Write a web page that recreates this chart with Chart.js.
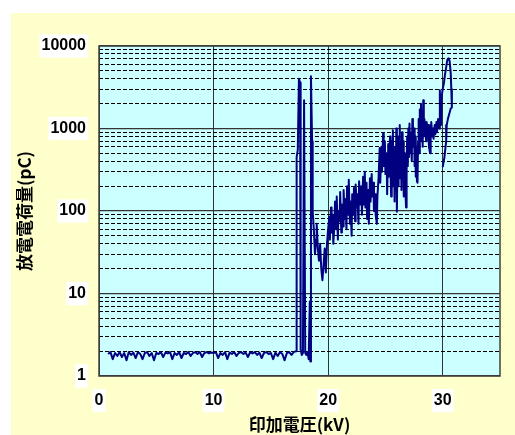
<!DOCTYPE html>
<html><head><meta charset="utf-8">
<script src="https://cdn.jsdelivr.net/npm/chart.js@4"></script>
<style>html,body{margin:0;padding:0;background:#fff;overflow:hidden}#wrap{width:515px;height:435px;position:relative}</style>
</head><body><div id="wrap"><canvas id="c" width="515" height="435"></canvas></div>
<script>
// ---- data (applied voltage kV / discharge charge pC), traced in sweep order ----
const baselineKV = [0.8,1.0,1.2,1.4,1.6,1.8,2.0,2.2,2.4,2.6,2.8,3.0,3.2,3.4,3.6,3.8,4.0,4.2,4.4,4.6,4.8,5.0,5.2,5.4,5.6,5.8,6.0,6.2,6.4,6.6,6.8,7.0,7.2,7.4,7.6,7.8,8.0,8.2,8.4,8.6,8.8,9.0,9.2,9.4,9.6,9.8,10.0,10.2,10.4,10.6,10.8,11.0,11.2,11.4,11.6,11.8,12.0,12.2,12.4,12.6,12.8,13.0,13.2,13.4,13.6,13.8,14.0,14.2,14.4,14.6,14.8,15.0,15.2,15.4,15.6,15.8,16.0,16.2,16.4,16.6,16.8,17.0,17.2];
const baselinePC = [1.85,1.95,1.6,1.9,1.75,1.95,1.7,1.9,1.55,1.95,1.8,1.92,1.65,1.95,1.85,1.6,1.9,1.95,1.75,1.9,1.55,1.9,1.85,1.95,1.7,1.92,1.88,1.95,1.6,1.9,1.8,1.95,1.65,1.9,1.85,1.95,1.75,1.9,1.95,1.85,1.95,1.7,1.9,1.95,1.88,1.93,1.9,1.95,1.65,1.9,1.8,1.95,1.6,1.92,1.85,1.95,1.75,1.9,1.95,1.85,1.92,1.7,1.95,1.88,1.95,1.8,1.92,1.65,1.9,1.95,1.85,1.9,1.6,1.92,1.75,1.95,1.85,1.55,1.9,1.95,1.8,1.95,2.0];
const onsetKV = [17.25,17.35,17.45,17.55,17.6,17.7,17.8,17.9,18.0,18.1,18.2,18.3,18.4,18.45,18.5,18.6,18.65,18.75,18.85,18.95,19.0,19.1,19.2,19.3,19.4,19.5,19.6,19.7,19.8,19.9];
const onsetPC = [450,550,4000,3600,2.1,1.8,1.9,2200,1.9,1.8,1.95,1.6,8,1.5,4300,700,100,60,30,45,70,35,25,40,20,14.5,22,35,18,40];
const growthKV = [20.0,20.1,20.15,20.25,20.3,20.4,20.45,20.55,20.6,20.7,20.75,20.85,20.9,21.0,21.05,21.15,21.2,21.3,21.35,21.45,21.5,
  21.6,21.65,21.75,21.8,21.9,21.95,22.05,22.1,22.2,22.25,22.35,22.4,22.5,22.55,22.65,22.7,22.8,
  22.9,22.95,23.05,23.1,23.2,23.25,23.35,23.4,23.5,23.55,23.65,23.7,23.8,23.85,23.95,24.0,24.1,24.15,24.25,24.3,
  24.4,24.5,24.55,24.65,24.7,24.8,24.85,24.95,25.0,25.1,25.15,25.25,25.3,25.4];
const growthPC = [60,85,45,110,55,90,40,70,130,60,150,45,100,75,170,55,120,65,180,80,140,
  60,200,90,240,70,130,50,160,90,190,75,210,110,160,70,230,120,
  200,90,260,120,300,110,220,80,180,70,250,130,280,150,220,100,160,90,70,150,
  250,580,220,600,300,880,350,700,280,500,160,650,260,800];
const highKV = [25.45,25.5,25.55,25.6,25.65,25.7,25.75,25.8,25.85,25.9,25.95,26.0,26.05,26.1,26.15,26.2,26.25,26.3,26.35,26.4,26.45,26.5,26.55,26.6,26.65,26.7,26.8,26.85,26.9,26.95,27.0,27.05,27.1,
  27.15,27.2,27.3,27.35,27.4,27.5,27.55,27.6,27.65,27.7,27.75,27.8,27.85,27.9,27.95,28.0,28.05,28.1,28.15,28.2,28.25,28.3,28.35,28.4,
  28.5,28.55,28.6,28.7,28.75,28.8,28.9,28.95,29.0,29.1,29.15,29.2,29.3,29.35,29.45,29.5,29.6,29.7,29.75];
const highPC = [300,150,700,200,950,250,500,130,600,180,1000,98,450,200,800,300,1100,250,600,180,900,300,700,150,500,250,110,400,800,350,1000,450,1150,
  500,900,400,1300,600,1000,350,800,260,600,230,220,700,1300,500,1700,700,2000,900,1500,600,2200,800,1300,
  1000,700,1200,800,1100,600,500,900,1200,800,1000,750,1100,850,1200,900,1300,1000,2900];
const peakKV = [29.8,29.85,29.9,30.0,30.1,30.2,30.3,30.4,30.5,30.6,30.7,30.75,30.8,30.7,30.45,30.35,30.3,30.15,30.0];
const peakPC = [1500,1100,2400,3000,3500,4500,5500,6800,7100,6600,4700,3000,1800,1750,1300,1100,700,450,340];

const xTickValues = [0,10,20,30];
const yTickValues = [1,2,3,4,5,6,7,8,9,10,20,30,40,50,60,70,80,90,100,200,300,400,500,600,700,800,900,1000,2000,3000,4000,5000,6000,7000,8000,9000,10000];
const yMajorTicks = [1,10,100,1000,10000];
const xAxisTitle = '印加電圧(kV)';
const yAxisTitle = '放電電荷量(pC)';

const voltage = [].concat(baselineKV, onsetKV, growthKV, highKV, peakKV);
const charge = [].concat(baselinePC, onsetPC, growthPC, highPC, peakPC);
const points = voltage.map((v, i) => ({x: v, y: charge[i]}));

const isMajorY = (c) => c && c.tick && yMajorTicks.includes(c.tick.value);

const bgPlugin = {
  id: 'bg',
  beforeDraw(chart) {
    const {ctx, chartArea: a} = chart;
    ctx.save();
    ctx.fillStyle = '#ffffff';
    ctx.fillRect(0, 0, chart.width, chart.height);
    ctx.fillStyle = '#ffffcc';
    ctx.fillRect(11, 13, chart.width - 11, chart.height - 13);
    ctx.fillStyle = '#ccffff';
    ctx.fillRect(a.left, a.top, a.right - a.left, a.bottom - a.top);
    ctx.restore();
  },
  afterDraw(chart) {
    const {ctx, chartArea: a} = chart;
    ctx.save();
    ctx.strokeStyle = '#404040';
    ctx.lineWidth = 1.5;
    ctx.strokeRect(a.left, a.top, a.right - a.left, a.bottom - a.top);
    ctx.restore();
  }
};

new Chart(document.getElementById('c'), {
  type: 'scatter',
  data: {
    datasets: [{
      data: points,
      showLine: true,
      borderColor: '#000080',
      backgroundColor: '#000080',
      borderWidth: 2,
      pointRadius: 0,
      borderJoinStyle: 'round',
      tension: 0
    }]
  },
  options: {
    responsive: false,
    devicePixelRatio: 1,
    animation: false,
    layout: {padding: {top: 46, right: 15, bottom: 0, left: 0}},
    plugins: {legend: {display: false}, tooltip: {enabled: false}},
    scales: {
      x: {
        type: 'linear',
        min: 0, max: 35,
        afterBuildTicks: (s) => { s.ticks = xTickValues.map(v => ({value: v})); },
        afterFit: (s) => { s.height = 59; },
        grid: {color: '#333333', lineWidth: 1, drawTicks: false},
        border: {display: false},
        ticks: {
          autoSkip: false, maxRotation: 0, padding: 15,
          color: '#000', font: {family: "'Liberation Sans', Arial, sans-serif", weight: 'bold', size: 16},
          showLabelBackdrop: true, backdropColor: '#ffffff', backdropPadding: 2
        },
        title: {
          display: true, text: xAxisTitle, color: '#000',
          font: {family: "'Noto Sans CJK JP', sans-serif", weight: 'bold', size: 17},
          padding: {top: 0, bottom: 0}
        }
      },
      y: {
        type: 'logarithmic',
        min: 1, max: 10000,
        afterBuildTicks: (s) => { s.ticks = yTickValues.map(v => ({value: v, major: yMajorTicks.includes(v)})); },
        afterFit: (s) => { s.width = 99; },
        grid: {
          drawTicks: false,
          color: (c) => isMajorY(c) ? '#333333' : '#000000',
          lineWidth: (c) => isMajorY(c) ? 1.2 : 1
        },
        border: {display: false, dash: (c) => (c && c.tick && !yMajorTicks.includes(c.tick.value)) ? [4, 2] : []},
        ticks: {
          autoSkip: false, padding: 13,
          color: '#000', font: {family: "'Liberation Sans', Arial, sans-serif", weight: 'bold', size: 16},
          callback: (v) => yMajorTicks.includes(v) ? String(v) : '',
          showLabelBackdrop: (c) => isMajorY(c),
          backdropColor: (c) => isMajorY(c) ? '#ffffff' : 'rgba(0,0,0,0)',
          backdropPadding: 2
        },
        title: {
          display: true, text: yAxisTitle, color: '#000',
          font: {family: "'Noto Sans CJK JP', sans-serif", weight: 'bold', size: 17},
          padding: {top: 14, bottom: 0}
        }
      }
    }
  },
  plugins: [bgPlugin]
});
</script>
</body></html>
